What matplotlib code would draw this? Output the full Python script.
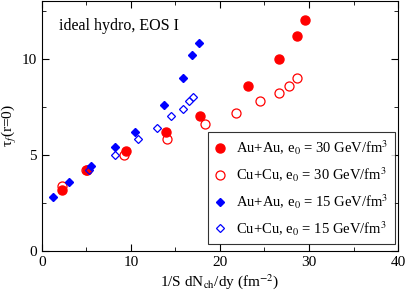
import matplotlib.pyplot as plt
from matplotlib.ticker import MultipleLocator

plt.rcParams['font.family'] = ['Liberation Serif', 'DejaVu Serif']
plt.rcParams['mathtext.fontset'] = 'stix'

# Au+Au, e0 = 30
auau30_x = [2.2, 5.1, 9.4, 13.9, 17.7, 23.2, 26.6, 28.6, 29.6]
auau30_y = [3.2, 4.2, 5.2, 6.2, 7.0, 8.6, 10.0, 11.2, 12.0]
# Cu+Cu, e0 = 30
cucu30_x = [2.2, 4.9, 9.2, 14.0, 18.3, 21.8, 24.5, 26.6, 27.8, 28.6]
cucu30_y = [3.4, 4.2, 5.0, 5.8, 6.6, 7.2, 7.8, 8.2, 8.6, 9.0]
# Au+Au, e0 = 15
auau15_x = [1.2, 3.0, 5.5, 8.2, 10.4, 13.7, 15.8, 16.9, 17.6]
auau15_y = [2.8, 3.6, 4.4, 5.4, 6.2, 7.6, 9.0, 10.2, 10.8]
# Cu+Cu, e0 = 15
cucu15_x = [5.3, 8.2, 10.8, 12.9, 14.5, 15.8, 16.5, 17.0]
cucu15_y = [4.2, 5.0, 5.8, 6.4, 7.0, 7.4, 7.8, 8.0]

fig = plt.figure(figsize=(4.07, 2.92), dpi=100)
ax = fig.add_axes([0.103, 0.140, 0.875, 0.857])

ax.plot(auau30_x, auau30_y, 'o', color='red', ms=6.5, ls='none',
        label='Au+Au, e$_0$ = 30 GeV/fm$^3$')
ax.plot(cucu30_x, cucu30_y, 'o', mfc='none', mec='red', mew=0.9, ms=6.5, ls='none',
        label='Cu+Cu, e$_0$ = 30 GeV/fm$^3$')
ax.plot(auau15_x, auau15_y, 'D', color='blue', ms=4.5, ls='none',
        label='Au+Au, e$_0$ = 15 GeV/fm$^3$')
ax.plot(cucu15_x, cucu15_y, 'D', mfc='none', mec='blue', mew=0.9, ms=4.5, ls='none',
        label='Cu+Cu, e$_0$ = 15 GeV/fm$^3$')

ax.set_xlim(0, 40)
ax.set_ylim(0, 13)
ax.xaxis.set_major_locator(MultipleLocator(10))
ax.xaxis.set_minor_locator(MultipleLocator(5))
ax.yaxis.set_major_locator(MultipleLocator(5))
ax.yaxis.set_minor_locator(MultipleLocator(2.5))
ax.tick_params(which='both', direction='in', top=True, right=True, labelsize=11)
ax.tick_params(which='major', length=5)
ax.tick_params(which='minor', length=3)

ax.set_xlabel('1/S dN$_{\\mathrm{ch}}$/dy (fm$^{-2}$)', fontsize=11, labelpad=2)
ax.set_ylabel('τ$_f$(r=0)', fontsize=11)
ax.yaxis.set_label_coords(-0.064, 0.5)

ax.text(1.9, 11.7, 'ideal hydro, EOS I', fontsize=11.5, va='center', ha='left')

leg = ax.legend(loc='lower right', fontsize=10.5, frameon=True, fancybox=False,
                edgecolor='black', handlelength=0.8, handletextpad=0.7,
                borderpad=0.45, labelspacing=0.55, borderaxespad=0,
                bbox_to_anchor=(0.992, 0.028))
leg.get_frame().set_linewidth(0.8)

fig.savefig('out.png', dpi=100)
